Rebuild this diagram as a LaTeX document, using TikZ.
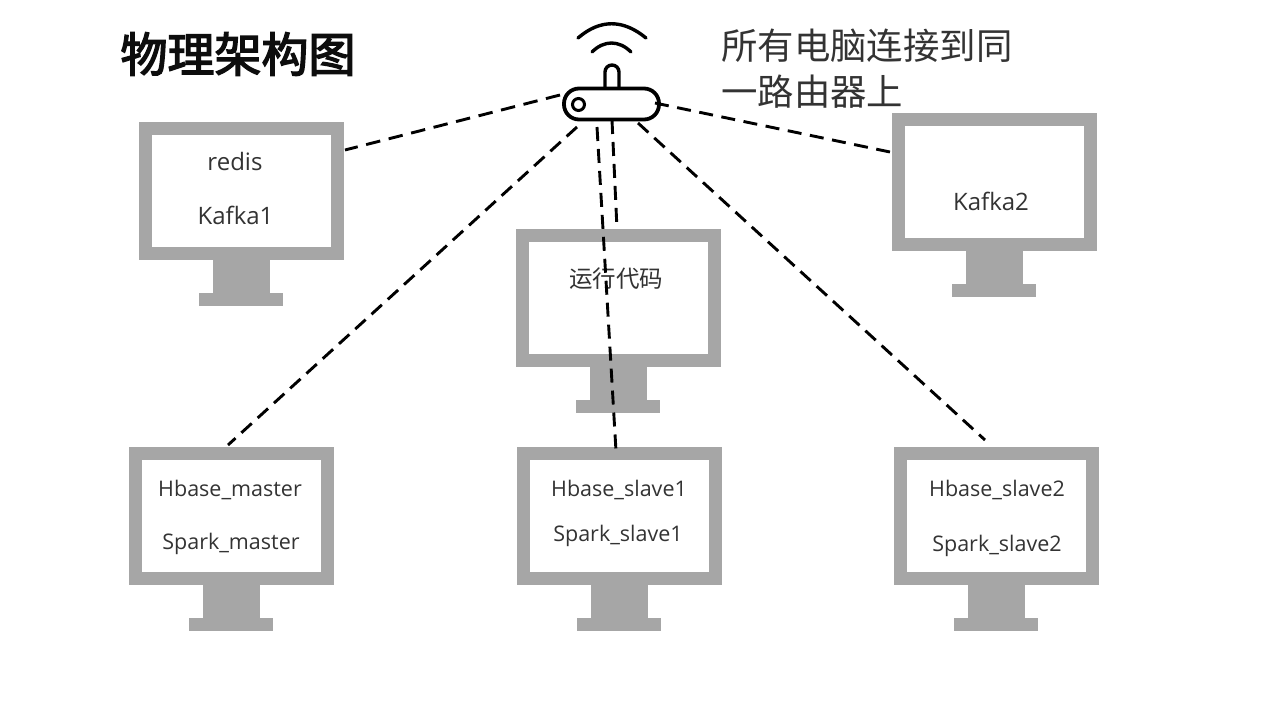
\documentclass[tikz,border=0pt]{standalone}
\usepackage{fontspec}
\setmainfont{Noto Sans CJK SC}
\newfontfamily\latinf{Open Sans}
\newfontfamily\titlef[FakeBold=3]{Noto Sans CJK SC}
\tikzset{
  x=1pt,y=-1pt,
  screen/.style={draw=scrgrey,line width=13pt,fill=white,minimum width=192pt,minimum height=125pt,inner sep=0pt,anchor=center},
  standpart/.style={fill=scrgrey,draw=none},
  link/.style={draw=black,line width=2.9pt,dash pattern=on 14pt off 8pt},
  routerline/.style={draw=black,line width=3.4pt,line cap=round},
  lab/.style={font=\fontsize{21.5}{26}\selectfont\latinf,text=black!80,inner sep=0pt},
  bigl/.style={font=\fontsize{24}{26}\selectfont\latinf,text=black!80,inner sep=0pt},
  cjklab/.style={font=\fontsize{23.5}{26}\selectfont,text=black!80,inner sep=0pt},
  title/.style={font=\fontsize{47}{50}\selectfont\titlef,text=black!95,inner sep=0pt},
  note/.style={font=\fontsize{36.4}{46}\selectfont,text=black!80,inner sep=0pt,align=left,anchor=north west}
}
\definecolor{scrgrey}{HTML}{A6A6A6}
\newcommand{\monitor}[3]{%
  \node[screen] (#1) at (#2,#3) {};
  \fill[standpart] (#2-29,#3+68) rectangle (#2+28,#3+103);
  \fill[standpart] (#2-43,#3+102) rectangle (#2+41,#3+115);
}
\begin{document}
\begin{tikzpicture}
\useasboundingbox (0,0) rectangle (1267,713);
\fill[white] (0,0) rectangle (1267,713);
\monitor{kafkaA}{241.5}{191}
\monitor{kafkaB}{994.5}{182}
\monitor{code}{618.5}{297.5}
\monitor{master}{231.5}{515.5}
\monitor{slaveA}{619.5}{515.5}
\monitor{slaveB}{996.5}{515.5}
% labels
\node[bigl] (l1) at (235,161.5) {redis};
\node[bigl] (l2) at (235.5,215) {Kafka1};
\node[bigl] (l3) at (991,201) {Kafka2};
\node[cjklab] (l4) at (616,279) {运行代码};
\node[lab] (l5) at (230,490) {Hbase\_master};
\node[lab] (l6) at (231,544) {Spark\_master};
\node[lab] (l7) at (619,490) {Hbase\_slave1};
\node[lab] (l8) at (618,536) {Spark\_slave1};
\node[lab] (l9) at (997,490) {Hbase\_slave2};
\node[lab] (l10) at (997,546) {Spark\_slave2};
\node[title] (t) at (238,54) {物理架构图};
\node[note] (n) at (721,28.5) {所有电脑连接到同\\一路由器上};
% router
\node[draw=black,line width=3.8pt,fill=white,rounded corners=15pt,minimum width=95pt,minimum height=31pt,inner sep=0pt] (router) at (611.5,104) {};
\node[draw=black,line width=3pt,circle,minimum size=12pt,inner sep=0pt] (led) at (578.5,104.5) {};
\draw[routerline,line cap=butt] (605,89) -- (605,72) arc[start angle=180,end angle=360,radius=7] -- (619,89);
\draw[routerline] (592,52) .. controls (604,40) and (619,40) .. (631,52);
\draw[routerline] (578,38) .. controls (600,19) and (623,19) .. (646,38);
% connector ends
\coordinate (pA) at (560,95);
\coordinate (pB) at (655,103);
\coordinate (pC) at (577,127);
\coordinate (pD) at (597,127);
\coordinate (pE) at (612,120);
\coordinate (pF) at (638,123);
\coordinate (qA) at (345,150);
\coordinate (qB) at (890,152);
\coordinate (qC) at (228,445);
\coordinate (qD) at (616,451);
\coordinate (qE) at (617,229);
\coordinate (qF) at (985,440);
\draw[link,dash pattern=on 14.5pt off 8.7pt] (pA) -- (qA);
\draw[link,dash pattern=on 14pt off 8.6pt] (pB) -- (qB);
\draw[link] (pC) -- (qC);
\draw[link] (pD) -- (qD);
\draw[link] (pE) -- (qE);
\draw[link] (pF) -- (qF);
\end{tikzpicture}
\end{document}
